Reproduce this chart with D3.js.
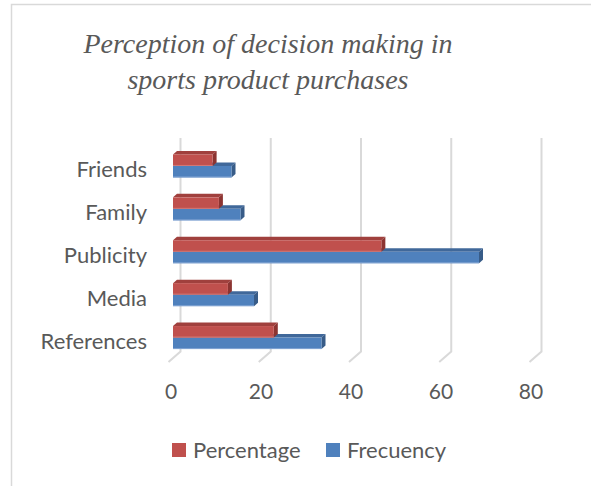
<!DOCTYPE html>
<html>
<head>
<meta charset="utf-8">
<script src="https://cdn.jsdelivr.net/npm/d3@7"></script>
<style>
  html, body { margin: 0; padding: 0; background: #fff; }
  svg { display: block; }
</style>
</head>
<body>
<svg id="chart" width="591" height="486"></svg>
<script>
// Categories listed top to bottom
const categories = ["Friends", "Family", "Publicity", "Media", "References"];
// Respondent counts per category
const frecuency = [13, 15, 68, 18, 33];
// Share of respondents, in percent
const percentage = [8.8, 10.2, 46.3, 12.2, 22.4];
const xTicks = [0, 20, 40, 60, 80];
const seriesNames = ["Percentage", "Frecuency"];

const W = 591, H = 486;
const svg = d3.select("#chart");
const textColor = "#595959";
const font = "Lato, 'Open Sans', sans-serif";

// chart frame
svg.append("rect")
  .attr("x", 11.5).attr("y", 4.5)
  .attr("width", W + 20).attr("height", H + 20)
  .attr("fill", "#fff").attr("stroke", "#d9d9d9").attr("stroke-width", 1.5);

// title
const title = svg.append("text")
  .attr("text-anchor", "middle")
  .attr("font-family", "'Liberation Serif', 'Times New Roman', serif")
  .attr("font-style", "italic")
  .attr("font-size", 28)
  .attr("fill", textColor);
title.append("tspan").attr("x", 268).attr("y", 53).text("Perception of decision making in");
title.append("tspan").attr("x", 268).attr("y", 89).text("sports product purchases");

// oblique 3D projection: depth shifts right and up
const depthBack = { dx: 9.5, dy: -10.5 };
const barDepth = { dx: 4, dy: -3.5 };

// value scale on the plane of the bars' front faces
const x = d3.scaleLinear().domain([0, 80]).range([173, 533]);
// value scale at the front edge of the floor (for tick labels)
const xFront = d3.scaleLinear().domain([0, 80]).range([171, 531]);
// back wall
const xBack = d3.scaleLinear().domain([0, 80]).range([180.5, 541.5]);

const y = d3.scaleBand().domain(categories).range([144.5, 359]).padding(0);
const barH = 11.5;

// gridlines on back wall with floor diagonals
const wallTop = 138, wallBottom = 351.5;
const grid = svg.append("g").attr("stroke", "#d9d9d9").attr("stroke-width", 2).attr("fill", "none");
xTicks.forEach(t => {
  const bx = xBack(t);
  grid.append("path")
    .attr("d", d3.line()([[bx, wallTop], [bx, wallBottom], [bx - 12, wallBottom + 10.5]]));
});

// x tick labels
svg.append("g").selectAll("text").data(xTicks).join("text")
  .attr("x", d => xFront(d))
  .attr("y", 399)
  .attr("text-anchor", "middle")
  .attr("font-family", font)
  .attr("font-size", 21)
  .attr("fill", textColor)
  .text(d => d);

// category labels
svg.append("g").selectAll("text").data(categories).join("text")
  .attr("x", 147)
  .attr("y", d => y(d) + y.bandwidth() / 2 + 11.5)
  .attr("text-anchor", "end")
  .attr("font-family", font)
  .attr("font-size", 22)
  .attr("fill", textColor)
  .text(d => d);

// 3D bar: front, top and side faces
function bar3d(g, x0, x1, y0, h, col) {
  const { dx, dy } = barDepth;
  g.append("polygon")
    .attr("points", [[x0, y0], [x0 + dx, y0 + dy], [x1 + dx, y0 + dy], [x1, y0]].join(" "))
    .attr("fill", col.top);
  g.append("polygon")
    .attr("points", [[x1, y0], [x1 + dx, y0 + dy], [x1 + dx, y0 + h + dy], [x1, y0 + h]].join(" "))
    .attr("fill", col.side);
  g.append("rect")
    .attr("x", x0).attr("y", y0).attr("width", x1 - x0).attr("height", h)
    .attr("fill", col.front);
  g.append("line")
    .attr("x1", x0).attr("x2", x1).attr("y1", y0 + h - 0.5).attr("y2", y0 + h - 0.5)
    .attr("stroke", col.edge).attr("stroke-width", 1);
}

const red = { front: "#C0504D", top: "#A0403D", side: "#8C3431", edge: "#D47A77" };
const blue = { front: "#4F81BD", top: "#40689A", side: "#385C88", edge: "#7FA3D2" };

const bars = svg.append("g");
categories.forEach((c, i) => {
  const mid = y(c) + y.bandwidth() / 2;
  // lower bar first so the upper bar's front covers its top face
  bar3d(bars, x(0), x(frecuency[i]), mid, barH, blue);
  bar3d(bars, x(0), x(percentage[i]), mid - barH, barH, red);
});

// legend
const legend = svg.append("g");
const legendItems = [
  { name: seriesNames[0], color: red.front, x: 172 },
  { name: seriesNames[1], color: blue.front, x: 326 }
];
legendItems.forEach(it => {
  legend.append("rect").attr("x", it.x).attr("y", 443).attr("width", 14).attr("height", 14).attr("fill", it.color);
  legend.append("text")
    .attr("x", it.x + 21).attr("y", 458)
    .attr("font-family", font).attr("font-size", 22).attr("fill", textColor)
    .text(it.name);
});
</script>
</body>
</html>
